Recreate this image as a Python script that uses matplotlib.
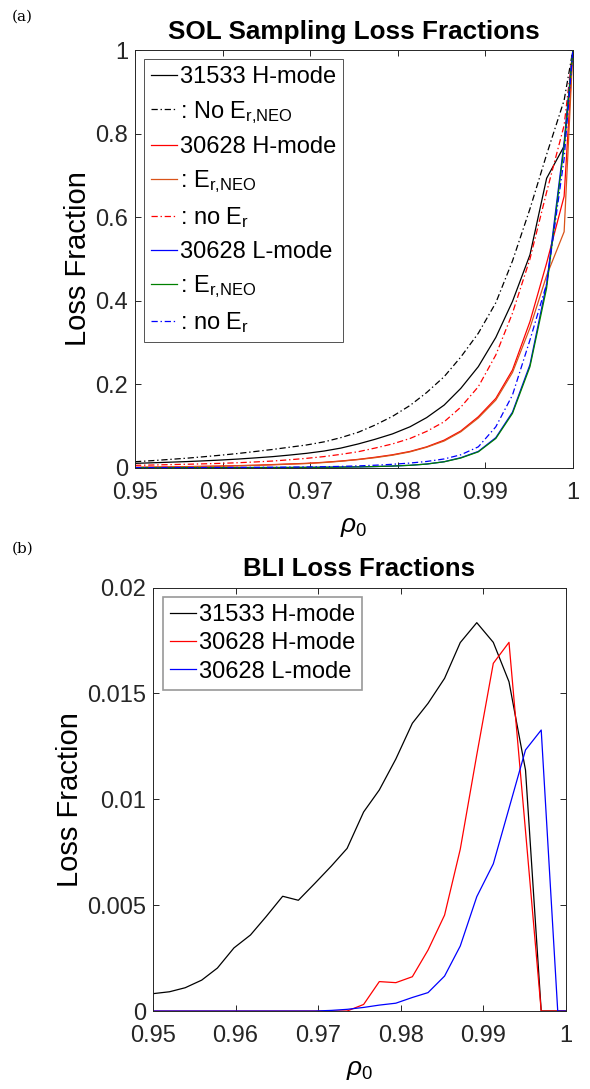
#loss_fractions.py
#plot SOL sampling and BLI loss fractions against starting rho
import matplotlib
matplotlib.use("Agg")
import matplotlib.pyplot as plt

plt.rcParams['font.family'] = ['Liberation Sans', 'DejaVu Sans']
plt.rcParams['mathtext.fontset'] = 'custom'
plt.rcParams['mathtext.rm'] = 'Liberation Sans'
plt.rcParams['mathtext.it'] = 'Liberation Sans:italic'
plt.rcParams['mathtext.bf'] = 'Liberation Sans:bold'
plt.rcParams['lines.scale_dashes'] = False

#starting radius grid
rho = [0.9500, 0.9520, 0.9539, 0.9559, 0.9578, 0.9598, 0.9618, 0.9637, 0.9657,
       0.9676, 0.9696, 0.9716, 0.9735, 0.9755, 0.9774, 0.9794, 0.9814, 0.9833,
       0.9853, 0.9872, 0.9892, 0.9912, 0.9931, 0.9951, 0.9970, 0.9990, 1.0000]

#SOL sampling loss fractions
sol_31533_h = [0.0105, 0.0118, 0.0132, 0.0147, 0.0164, 0.0184, 0.0208, 0.0235, 0.0265,
               0.0302, 0.0345, 0.040, 0.047, 0.057, 0.068, 0.081, 0.098, 0.120,
               0.150, 0.190, 0.242, 0.312, 0.398, 0.510, 0.693, 0.770, 1.0]
sol_31533_h_noneo = [0.0144, 0.0170, 0.0198, 0.0228, 0.0262, 0.0300, 0.0342, 0.0388, 0.0437,
                     0.0490, 0.0545, 0.062, 0.072, 0.085, 0.102, 0.123, 0.149, 0.180,
                     0.218, 0.265, 0.322, 0.395, 0.495, 0.620, 0.750, 0.880, 1.0]
sol_30628_h = [0.0010, 0.0015, 0.0020, 0.0027, 0.0033, 0.0040, 0.0050, 0.0060, 0.0075,
               0.0090, 0.0105, 0.013, 0.016, 0.020, 0.025, 0.031, 0.039, 0.050,
               0.066, 0.088, 0.122, 0.166, 0.234, 0.350, 0.490, 0.650, 1.0]
sol_30628_h_neo = [0.0008, 0.0012, 0.0017, 0.0023, 0.0030, 0.0037, 0.0046, 0.0056, 0.0070,
                   0.0085, 0.0100, 0.0125, 0.0155, 0.0195, 0.024, 0.030, 0.038, 0.049,
                   0.064, 0.086, 0.119, 0.162, 0.228, 0.335, 0.460, 0.565, 1.0]
sol_30628_h_noer = [0.0057, 0.0065, 0.0074, 0.0083, 0.0093, 0.0105, 0.0120, 0.0138, 0.0160,
                    0.0190, 0.0225, 0.0267, 0.032, 0.0384, 0.047, 0.057, 0.070, 0.087,
                    0.110, 0.145, 0.194, 0.270, 0.370, 0.500, 0.660, 0.820, 1.0]
sol_30628_l = [0.0001, 0.0001, 0.0001, 0.0002, 0.0002, 0.0002, 0.0003, 0.0004, 0.0005,
               0.0006, 0.0008, 0.0011, 0.0015, 0.0020, 0.0028, 0.0040, 0.0058, 0.0088,
               0.0144, 0.0240, 0.039, 0.072, 0.133, 0.247, 0.440, 0.780, 1.0]
sol_30628_l_neo = [0.0001, 0.0001, 0.0001, 0.0002, 0.0002, 0.0002, 0.0003, 0.0004, 0.0005,
                   0.0006, 0.0008, 0.0011, 0.0015, 0.0020, 0.0028, 0.0040, 0.0058, 0.0088,
                   0.0142, 0.0232, 0.038, 0.070, 0.130, 0.242, 0.430, 0.770, 1.0]
sol_30628_l_noer = [0.0003, 0.0003, 0.0004, 0.0004, 0.0005, 0.0006, 0.0007, 0.0009, 0.0011,
                    0.0014, 0.0018, 0.0024, 0.0032, 0.0044, 0.0060, 0.0082, 0.0112, 0.0150,
                    0.0210, 0.0310, 0.050, 0.098, 0.174, 0.306, 0.440, 0.740, 1.0]

#BLI loss fractions
bli_31533_h = [0.00082, 0.00091, 0.0011, 0.00146, 0.00203, 0.00298, 0.00359, 0.00446, 0.00542,
               0.00523, 0.00603, 0.00685, 0.00768, 0.0094, 0.01044, 0.0119, 0.01359, 0.01453,
               0.01571, 0.0174, 0.01834, 0.01741, 0.01555, 0.01138, 0.0, 0.0, 0.0]
bli_30628_h = [0.0, 0.0, 0.0, 0.0, 0.0, 0.0, 0.0, 0.0, 0.0,
               0.0, 0.0, 0.0, 0.0, 0.00031, 0.00139, 0.00134, 0.00162, 0.00288,
               0.00453, 0.00764, 0.0121, 0.01642, 0.01741, 0.0085, 0.0, 0.0, 0.0]
bli_30628_l = [0.0, 0.0, 0.0, 0.0, 0.0, 0.0, 0.0, 0.0, 0.0,
               0.0, 0.0, 0.00003, 0.00008, 0.00017, 0.00028, 0.00037, 0.00064, 0.00087,
               0.00165, 0.00307, 0.0054, 0.00695, 0.00957, 0.01233, 0.01327, 0.0, 0.0]

xticks = [0.95, 0.96, 0.97, 0.98, 0.99, 1.0]
xticklabels = ['0.95', '0.96', '0.97', '0.98', '0.99', '1']
yticks_a = [0, 0.2, 0.4, 0.6, 0.8, 1.0]
yticklabels_a = ['0', '0.2', '0.4', '0.6', '0.8', '1']
yticks_b = [0, 0.005, 0.01, 0.015, 0.02]
yticklabels_b = ['0', '0.005', '0.01', '0.015', '0.02']

ORANGE = '#D95319'
GREEN = '#008000'
DASHDOT = (0, (4.5, 2.0, 1.0, 2.0))
AXCOL = '#262626'
ER_NEO = r'$\mathrm{E}_{\mathrm{r{,}NEO}}$'
ER = r'$\mathrm{E}_{\mathrm{r}}$'

def style_axes(ax):
    for s in ax.spines.values():
        s.set_color(AXCOL)
        s.set_linewidth(0.7)
    ax.tick_params(direction='in', length=4.5, width=0.7, colors=AXCOL,
                   labelsize=17, labelcolor='#262626', top=True, right=True, pad=5)
    ax.tick_params(axis='x', pad=10)
    ax.set_xticks(xticks)
    ax.set_xticklabels(xticklabels)
    ax.set_xlim(0.95, 1.0)

fig = plt.figure(figsize=(5.9, 10.89), dpi=100)

#(a) SOL sampling
ax1 = fig.add_axes([0.2288, 0.5705, 0.7422, 0.3835])
lw = 0.9
ax1.plot(rho, sol_31533_h, '-', color='k', lw=lw, label='31533 H-mode')
ax1.plot(rho, sol_31533_h_noneo, color='k', ls=DASHDOT, lw=lw, label=': No ' + ER_NEO)
ax1.plot(rho, sol_30628_h, '-', color='r', lw=lw, label='30628 H-mode')
ax1.plot(rho, sol_30628_h_neo, '-', color=ORANGE, lw=lw, label=': ' + ER_NEO)
ax1.plot(rho, sol_30628_h_noer, color='r', ls=DASHDOT, lw=lw, label=': no ' + ER)
ax1.plot(rho, sol_30628_l, '-', color='b', lw=lw, label='30628 L-mode')
ax1.plot(rho, sol_30628_l_neo, '-', color=GREEN, lw=lw, label=': ' + ER_NEO)
ax1.plot(rho, sol_30628_l_noer, color='b', ls=DASHDOT, lw=lw, label=': no ' + ER)
style_axes(ax1)
ax1.set_ylim(0, 1)
ax1.set_yticks(yticks_a)
ax1.set_yticklabels(yticklabels_a)
ax1.set_title('SOL Sampling Loss Fractions', fontsize=18.8, fontweight='bold', pad=8)
ax1.set_ylabel('Loss Fraction', fontsize=21, labelpad=2)
ax1.set_xlabel(r'$\rho_0$', fontsize=19, labelpad=8)
leg1 = ax1.legend(loc='upper left', bbox_to_anchor=(0.02, 0.978), fontsize=17,
                  handlelength=1.1, handletextpad=0.12, labelspacing=0.44,
                  borderpad=0.3, borderaxespad=0, frameon=True, fancybox=False)
leg1.get_frame().set_edgecolor(AXCOL)
leg1.get_frame().set_linewidth(0.7)

#(b) BLI
ax2 = fig.add_axes([0.2593, 0.0716, 0.70, 0.3889])
ax2.plot(rho, bli_31533_h, '-', color='k', lw=lw, label='31533 H-mode')
ax2.plot(rho, bli_30628_h, '-', color='r', lw=lw, label='30628 H-mode')
ax2.plot(rho, bli_30628_l, '-', color='b', lw=lw, label='30628 L-mode')
style_axes(ax2)
ax2.set_ylim(0, 0.02)
ax2.set_yticks(yticks_b)
ax2.set_yticklabels(yticklabels_b)
ax2.set_title('BLI Loss Fractions', fontsize=18.5, fontweight='bold', pad=8)
ax2.set_ylabel('Loss Fraction', fontsize=21, labelpad=2)
ax2.set_xlabel(r'$\rho_0$', fontsize=19, labelpad=8)
leg2 = ax2.legend(loc='upper left', bbox_to_anchor=(0.024, 0.978), fontsize=17,
                  handlelength=1.1, handletextpad=0.12, labelspacing=0.27,
                  borderpad=0.3, borderaxespad=0, frameon=True, fancybox=False)
leg2.get_frame().set_edgecolor('#7f7f7f')
leg2.get_frame().set_linewidth(1.2)

fig.text(0.02, 0.985, '(a)', family='DejaVu Serif', fontsize=11, va='center')
fig.text(0.02, 0.496, '(b)', family='DejaVu Serif', fontsize=11, va='center')

fig.savefig('out.png', dpi=100)
